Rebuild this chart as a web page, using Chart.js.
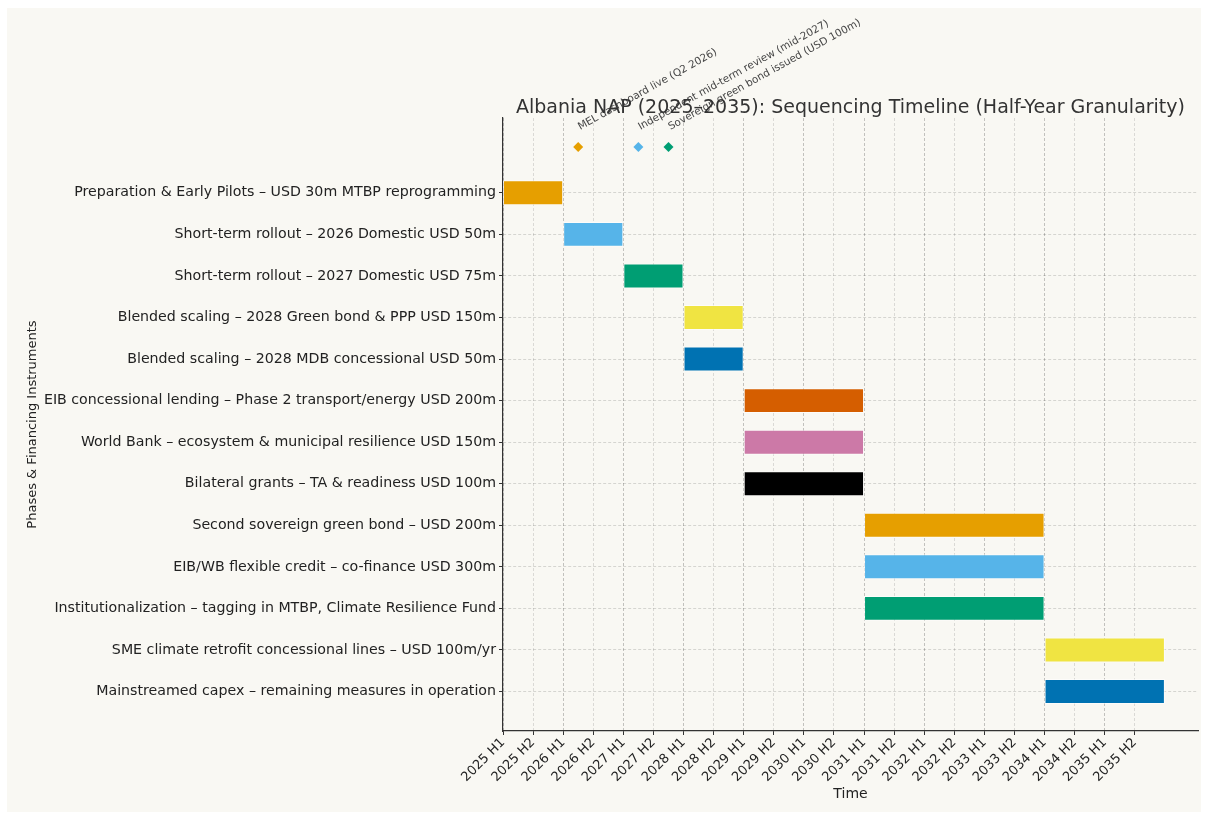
<!DOCTYPE html>
<html>
<head>
<meta charset="utf-8">
<script src="https://cdn.jsdelivr.net/npm/chart.js@4.4.1/dist/chart.umd.min.js"></script>
<style>
  html, body { margin: 0; padding: 0; background: #ffffff; }
  #wrap { width: 1205px; height: 816px; }
</style>
</head>
<body>
<div id="wrap"><canvas id="chart" width="1205" height="816"></canvas></div>
<script>
// rows (top to bottom)
const tasks = [
  "Preparation & Early Pilots – USD 30m MTBP reprogramming",
  "Short-term rollout – 2026 Domestic USD 50m",
  "Short-term rollout – 2027 Domestic USD 75m",
  "Blended scaling – 2028 Green bond & PPP USD 150m",
  "Blended scaling – 2028 MDB concessional USD 50m",
  "EIB concessional lending – Phase 2 transport/energy USD 200m",
  "World Bank – ecosystem & municipal resilience USD 150m",
  "Bilateral grants – TA & readiness USD 100m",
  "Second sovereign green bond – USD 200m",
  "EIB/WB flexible credit – co-finance USD 300m",
  "Institutionalization – tagging in MTBP, Climate Resilience Fund",
  "SME climate retrofit concessional lines – USD 100m/yr",
  "Mainstreamed capex – remaining measures in operation"
]
const taskStart = [2025, 2026, 2027, 2028, 2028, 2029, 2029, 2029, 2031, 2031, 2031, 2034, 2034]
const taskEnd   = [2026, 2027, 2028, 2029, 2029, 2031, 2031, 2031, 2034, 2034, 2034, 2036, 2036]

const milestones = [
  "MEL dashboard live (Q2 2026)",
  "Independent mid-term review (mid-2027)",
  "Sovereign green bond issued (USD 100m)"
]
const milestoneTime = [2026.25, 2027.25, 2027.75]
const milestoneRow = -1.1

const tickValues = [2025, 2025.5, 2026, 2026.5, 2027, 2027.5, 2028, 2028.5, 2029, 2029.5, 2030, 2030.5,
  2031, 2031.5, 2032, 2032.5, 2033, 2033.5, 2034, 2034.5, 2035, 2035.5]
const tickLabels = ["2025 H1", "2025 H2", "2026 H1", "2026 H2", "2027 H1", "2027 H2", "2028 H1", "2028 H2",
  "2029 H1", "2029 H2", "2030 H1", "2030 H2", "2031 H1", "2031 H2", "2032 H1", "2032 H2",
  "2033 H1", "2033 H2", "2034 H1", "2034 H2", "2035 H1", "2035 H2"]

const palette = ["#E69F00", "#56B4E9", "#009E73", "#F0E442", "#0072B2", "#D55E00", "#CC79A7", "#000000"]
const barColors = tasks.map((t, i) => palette[i % palette.length])

const FONT = "'DejaVu Sans', sans-serif"
const BG = "#f9f8f3"

const decorations = {
  id: "decorations",
  beforeDraw(chart) {
    const ctx = chart.ctx
    ctx.save()
    ctx.fillStyle = "#ffffff"
    ctx.fillRect(0, 0, chart.width, chart.height)
    ctx.fillStyle = BG
    ctx.fillRect(7, 8, chart.width - 11, chart.height - 12)
    ctx.restore()
  },
  afterDraw(chart) {
    const ctx = chart.ctx
    const area = chart.chartArea
    const x = chart.scales.x
    const y = chart.scales.y
    ctx.save()
    // milestone labels
    ctx.font = "10.4px " + FONT
    ctx.fillStyle = "#444444"
    ctx.textAlign = "left"
    ctx.textBaseline = "alphabetic"
    milestones.forEach((m, i) => {
      const px = x.getPixelForValue(milestoneTime[i])
      const py = y.getPixelForValue(milestoneRow)
      ctx.save()
      ctx.translate(px + 2, py - 17)
      ctx.rotate(-29 * Math.PI / 180)
      ctx.fillText(m, 0, 0)
      ctx.restore()
    })
    // title
    ctx.font = "19px " + FONT
    ctx.fillStyle = "#333333"
    ctx.textAlign = "center"
    ctx.fillText("Albania NAP (2025–2035): Sequencing Timeline (Half-Year Granularity)", (area.left + area.right) / 2, area.top - 5)
    // axis titles
    ctx.font = "14px " + FONT
    ctx.fillStyle = "#222222"
    ctx.fillText("Time", (area.left + area.right) / 2, 798)
    ctx.font = "13px " + FONT
    ctx.save()
    ctx.translate(36, (area.top + area.bottom) / 2)
    ctx.rotate(-Math.PI / 2)
    ctx.fillText("Phases & Financing Instruments", 0, 0)
    ctx.restore()
    ctx.restore()
  }
}

new Chart(document.getElementById("chart"), {
  data: {
    datasets: [
      {
        type: "bar",
        data: tasks.map((t, i) => ({ x: [taskStart[i], taskEnd[i]], y: i })),
        backgroundColor: barColors,
        borderColor: "rgba(255,255,255,0.6)",
        borderWidth: 1,
        borderSkipped: false,
        categoryPercentage: 1,
        barPercentage: 0.6,
        order: 2
      },
      {
        type: "scatter",
        data: milestones.map((m, i) => ({ x: milestoneTime[i], y: milestoneRow })),
        pointStyle: "rectRot",
        pointRadius: 5,
        backgroundColor: ["#E69F00", "#56B4E9", "#009E73"],
        borderColor: ["#E69F00", "#56B4E9", "#009E73"],
        borderWidth: 0,
        order: 1
      }
    ]
  },
  options: {
    indexAxis: "y",
    responsive: false,
    animation: false,
    devicePixelRatio: 1,
    layout: { padding: { left: 0, top: 118, right: 7, bottom: 0 } },
    plugins: {
      legend: { display: false },
      tooltip: { enabled: false }
    },
    scales: {
      x: {
        type: "linear",
        position: "bottom",
        min: 2025,
        max: 2036.55,
        offset: false,
        z: 1,
        afterBuildTicks: (scale) => {
          scale.ticks = tickValues.map(v => ({ value: v }))
        },
        afterFit: (scale) => {
          scale.height = 816 - 731
        },
        ticks: {
          autoSkip: false,
          minRotation: 45,
          maxRotation: 45,
          padding: 0,
          color: "#222222",
          font: { family: FONT, size: 13 },
          callback: (v) => tickLabels[tickValues.indexOf(v)]
        },
        grid: {
          offset: false,
          color: (ctx) => (ctx.tick && ctx.tick.value % 1 === 0) ? "rgba(0,0,0,0.22)" : "rgba(0,0,0,0.12)",
          tickColor: "#333333",
          tickLength: 4,
          lineWidth: 1
        },
        border: { color: "#333333", width: 1.2, dash: [3, 2] }
      },
      y: {
        type: "linear",
        reverse: true,
        min: -1.8,
        max: 12.95,
        offset: false,
        z: 1,
        afterBuildTicks: (scale) => {
          scale.ticks = tasks.map((t, i) => ({ value: i }))
        },
        afterFit: (scale) => {
          scale.width = 503
        },
        ticks: {
          autoSkip: false,
          padding: 3,
          color: "#222222",
          font: { family: FONT, size: 14.2 },
          callback: (v) => tasks[v]
        },
        grid: {
          offset: false,
          color: "rgba(0,0,0,0.14)",
          tickColor: "#333333",
          tickLength: 4,
          lineWidth: 1
        },
        border: { color: "#333333", width: 1.2, dash: [3, 2] }
      }
    }
  },
  plugins: [decorations]
})
</script>
</body>
</html>
